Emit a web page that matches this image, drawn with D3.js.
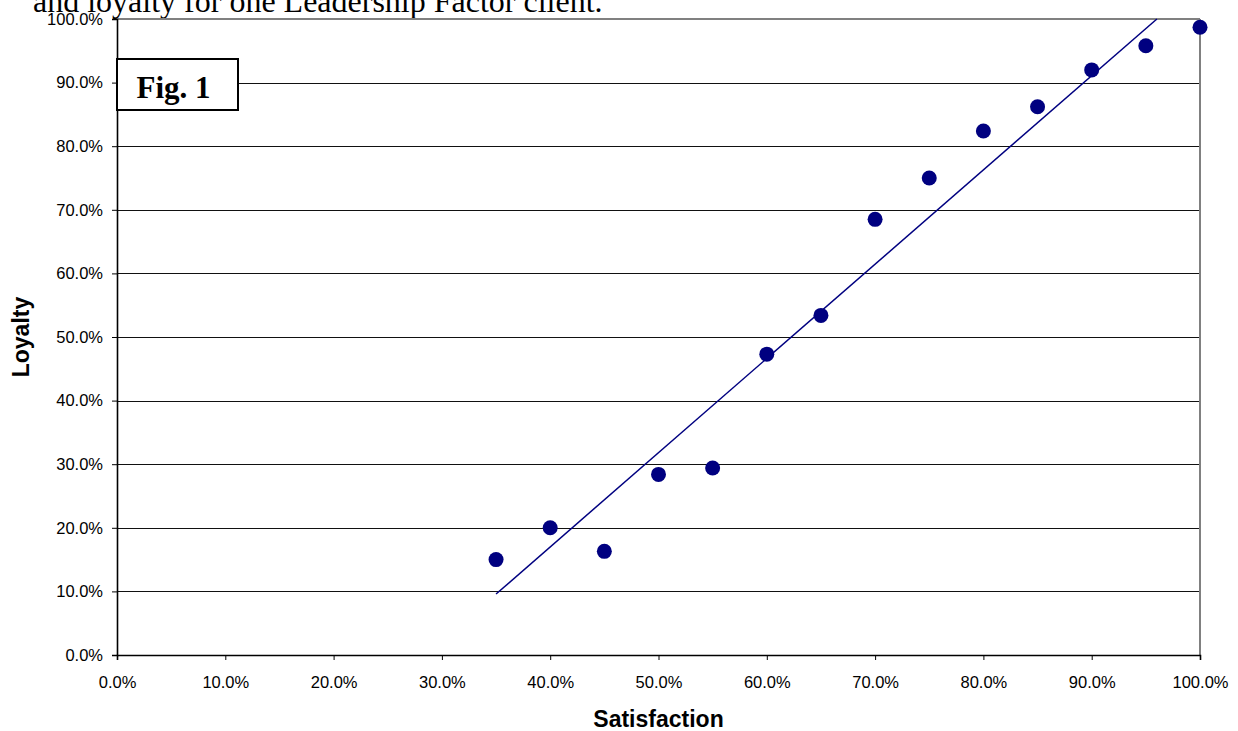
<!DOCTYPE html>
<html><head><meta charset="utf-8">
<script src="https://cdn.jsdelivr.net/npm/d3@7/dist/d3.min.js"></script>
<style>body{margin:0;background:#fff}svg{display:block}</style>
</head><body>
<svg id="c" width="1238" height="731"></svg>
<script>
const satisfaction = [0.35,0.40,0.45,0.50,0.55,0.60,0.65,0.70,0.75,0.80,0.85,0.90,0.95,1.00];
const loyalty      = [0.150,0.200,0.163,0.284,0.294,0.473,0.534,0.685,0.750,0.824,0.862,0.920,0.958,0.987];
const xTicks = [0,0.1,0.2,0.3,0.4,0.5,0.6,0.7,0.8,0.9,1.0];
const yTicks = [0,0.1,0.2,0.3,0.4,0.5,0.6,0.7,0.8,0.9,1.0];
const titleText = "and loyalty for one Leadership Factor client.";
const xTitle = "Satisfaction", yTitle = "Loyalty", figLabel = "Fig. 1";

const svg = d3.select("#c");
const L=117, R=1200, T=19, B=655;
const x = d3.scaleLinear().domain([0,1]).range([L,R]);
const y = d3.scaleLinear().domain([0,1]).range([B,T]);
const fmt = d3.format(".1%");

// title (cut at top, as in the reference)
svg.append("text").attr("x",33).attr("y",12).attr("font-family","Liberation Serif, Times New Roman, serif")
  .attr("font-size",32).attr("fill","#000").text(titleText);

// gridlines
svg.append("g").selectAll("line").data(yTicks.filter(d=>d>0&&d<1)).join("line")
  .attr("x1",L).attr("x2",R).attr("y1",d=>Math.round(y(d))+0.5).attr("y2",d=>Math.round(y(d))+0.5)
  .attr("stroke","#111").attr("stroke-width",1);
// top and right border (gray)
svg.append("line").attr("x1",L).attr("x2",R).attr("y1",T).attr("y2",T).attr("stroke","#808080").attr("stroke-width",2);
svg.append("line").attr("x1",R).attr("x2",R).attr("y1",T).attr("y2",B).attr("stroke","#808080").attr("stroke-width",2);

// axes
const xAxis = svg.append("g").attr("transform",`translate(0,${B})`)
  .call(d3.axisBottom(x).tickValues(xTicks).tickFormat(fmt).tickSize(5).tickPadding(16));
const yAxis = svg.append("g").attr("transform",`translate(${L},0)`)
  .call(d3.axisLeft(y).tickValues(yTicks).tickFormat(fmt).tickSize(5).tickPadding(9));
[xAxis,yAxis].forEach(g=>{
  g.select(".domain").attr("stroke","#000").attr("stroke-width",1.6);
  g.selectAll(".tick line").attr("stroke","#000");
  g.selectAll("text").attr("font-family","Liberation Sans, Arial, sans-serif").attr("font-size",16.5).attr("fill","#000");
});

// trendline: least squares regression of the data
const n = satisfaction.length;
const mx = d3.mean(satisfaction), my = d3.mean(loyalty);
let sxy=0,sxx=0;
for(let i=0;i<n;i++){sxy+=(satisfaction[i]-mx)*(loyalty[i]-my);sxx+=(satisfaction[i]-mx)**2;}
const slope = sxy/sxx, icpt = my - slope*mx;
const x0 = d3.min(satisfaction);
const x1 = Math.min(d3.max(satisfaction),(1-icpt)/slope);
svg.append("line").attr("x1",x(x0)).attr("y1",y(icpt+slope*x0)).attr("x2",x(x1)).attr("y2",y(icpt+slope*x1))
  .attr("stroke","#000080").attr("stroke-width",1.5);

// points
svg.append("g").selectAll("circle").data(satisfaction.map((s,i)=>[s,loyalty[i]])).join("circle")
  .attr("cx",d=>x(d[0])).attr("cy",d=>y(d[1])).attr("r",7.5).attr("fill","#000080");

// fig box
svg.append("rect").attr("x",117).attr("y",59).attr("width",121).attr("height",51)
  .attr("fill","#fff").attr("stroke","#000").attr("stroke-width",2);
svg.append("text").attr("x",173.5).attr("y",98).attr("text-anchor","middle")
  .attr("font-family","Liberation Serif, Times New Roman, serif").attr("font-weight","bold").attr("font-size",31).text(figLabel);

// axis titles
svg.append("text").attr("x",658.5).attr("y",727).attr("text-anchor","middle")
  .attr("font-family","Liberation Sans, Arial, sans-serif").attr("font-weight","bold").attr("font-size",23).text(xTitle);
svg.append("text").attr("transform",`translate(29,337) rotate(-90)`).attr("text-anchor","middle")
  .attr("font-family","Liberation Sans, Arial, sans-serif").attr("font-weight","bold").attr("font-size",23).text(yTitle);
</script>
</body></html>
